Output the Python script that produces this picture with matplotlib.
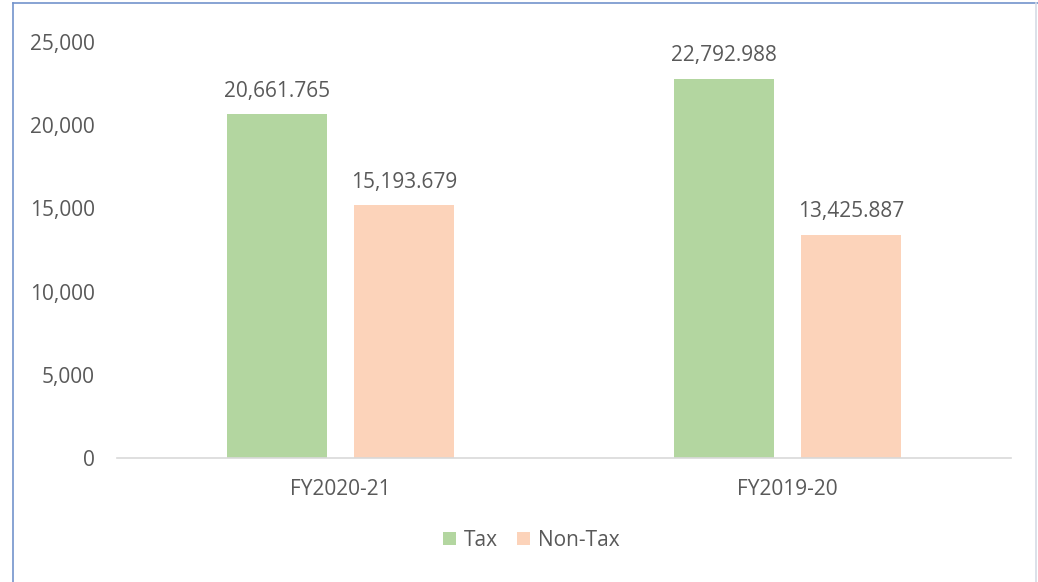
import numpy as np
import matplotlib.pyplot as plt

categories = ["FY2020-21", "FY2019-20"]
tax = [20661.765, 22792.988]
non_tax = [15193.679, 13425.887]
series_names = ["Tax", "Non-Tax"]
yticks = [0, 5000, 10000, 15000, 20000, 25000]

plt.rcParams["font.family"] = ["Open Sans", "DejaVu Sans"]
text_color = "#595959"
colors = ["#B3D6A0", "#FCD3BA"]
fs = 15

fig = plt.figure(figsize=(10.38, 5.82), dpi=100)
ax = fig.add_axes([0.1127, 0.213, 0.974 - 0.1127, 0.928 - 0.213])

x = np.arange(len(categories))
w = 0.223
off = 0.142
b1 = ax.bar(x - off, tax, w, color=colors[0], label=series_names[0])
b2 = ax.bar(x + off, non_tax, w, color=colors[1], label=series_names[1])

for bars, vals in [(b1, tax), (b2, non_tax)]:
    for rect, v in zip(bars, vals):
        ax.annotate(f"{v:,.3f}", (rect.get_x() + rect.get_width() / 2, v),
                    textcoords="offset points", xytext=(0, 9),
                    ha="center", va="bottom", fontsize=fs, color=text_color)

ax.set_xlim(-0.5, 1.5)
ax.set_ylim(0, 25000)
ax.set_yticks(yticks)
ax.set_yticklabels([f"{t:,}" for t in yticks])
ax.set_xticks(x)
ax.set_xticklabels(categories)
ax.tick_params(axis="y", length=0, pad=16, labelsize=fs, labelcolor=text_color)
ax.tick_params(axis="x", length=0, pad=15, labelsize=fs, labelcolor=text_color)
for s in ["top", "right", "left"]:
    ax.spines[s].set_visible(False)
ax.spines["bottom"].set_color("#D9D9D9")
ax.spines["bottom"].set_linewidth(1.2)

leg = fig.legend(loc="center", bbox_to_anchor=(0.512, 0.072), ncol=2, frameon=False,
                 fontsize=fs, handlelength=0.6, handleheight=0.6,
                 handletextpad=0.4, columnspacing=0.9)
for t in leg.get_texts():
    t.set_color(text_color)

# outer frame: blue on left/top, light grey on right
fig.add_artist(plt.Line2D([13 / 1038, 13 / 1038], [0, 1 - 3 / 582], color="#7394CC", lw=1.2))
fig.add_artist(plt.Line2D([13 / 1038, 1], [1 - 3 / 582, 1 - 3 / 582], color="#7394CC", lw=1.2))
fig.add_artist(plt.Line2D([1036 / 1038, 1036 / 1038], [0, 1 - 3 / 582], color="#D6DCE5", lw=1.2))

fig.savefig("out.png", dpi=100)
